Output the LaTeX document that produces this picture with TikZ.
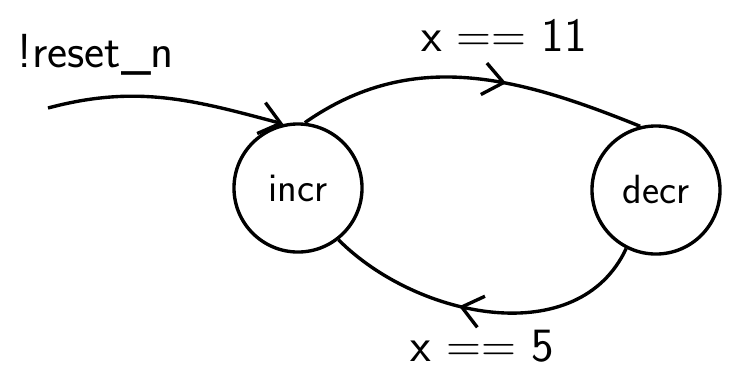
\documentclass[tikz,border=0pt]{standalone}
\usepackage{fontspec}
\usetikzlibrary{arrows.meta,decorations.markings}

\begin{document}
\begin{tikzpicture}[x=0.025cm,y=-0.025cm,
        etat/.style={draw, circle, line width=2.4pt, minimum size=3.2cm, inner sep=0pt, font=\fontsize{29}{34}\selectfont\sffamily},
        trait/.style={line width=2.4pt},
        pointe/.style={-{Straight Barb[length=5mm,width=8mm]}},
        milieu/.style={decoration={markings, mark=at position #1 with {\arrow{Straight Barb[length=5mm,width=8mm]}}}, postaction=decorate},
        etiquette/.style={font=\fontsize{34}{40}\selectfont\sffamily}]
        \useasboundingbox (0,0) rectangle (741,371);

        % Etats
        \node[etat] (incr) at (298,188) {incr};
        \node[etat] (decr) at (656,190) {decr};

        % Entree
        \coordinate (depart) at (48,108);
        \draw[trait, pointe] (depart) to[out=15, in=165] (incr.103);
        \node[etiquette] (reset) at (96,55) {!reset\_n};

        % Transitions
        \draw[trait, milieu=0.6] (incr.84) to[out=35, in=158] (decr.104);
        \node[etiquette] (haut) at (504,35) {x == 11};
        \draw[trait, milieu=0.58] (decr.243) to[out=-115, in=-45] (incr.-52);
        \node[etiquette] (bas) at (482,346) {x == 5};
\end{tikzpicture}
\end{document}
